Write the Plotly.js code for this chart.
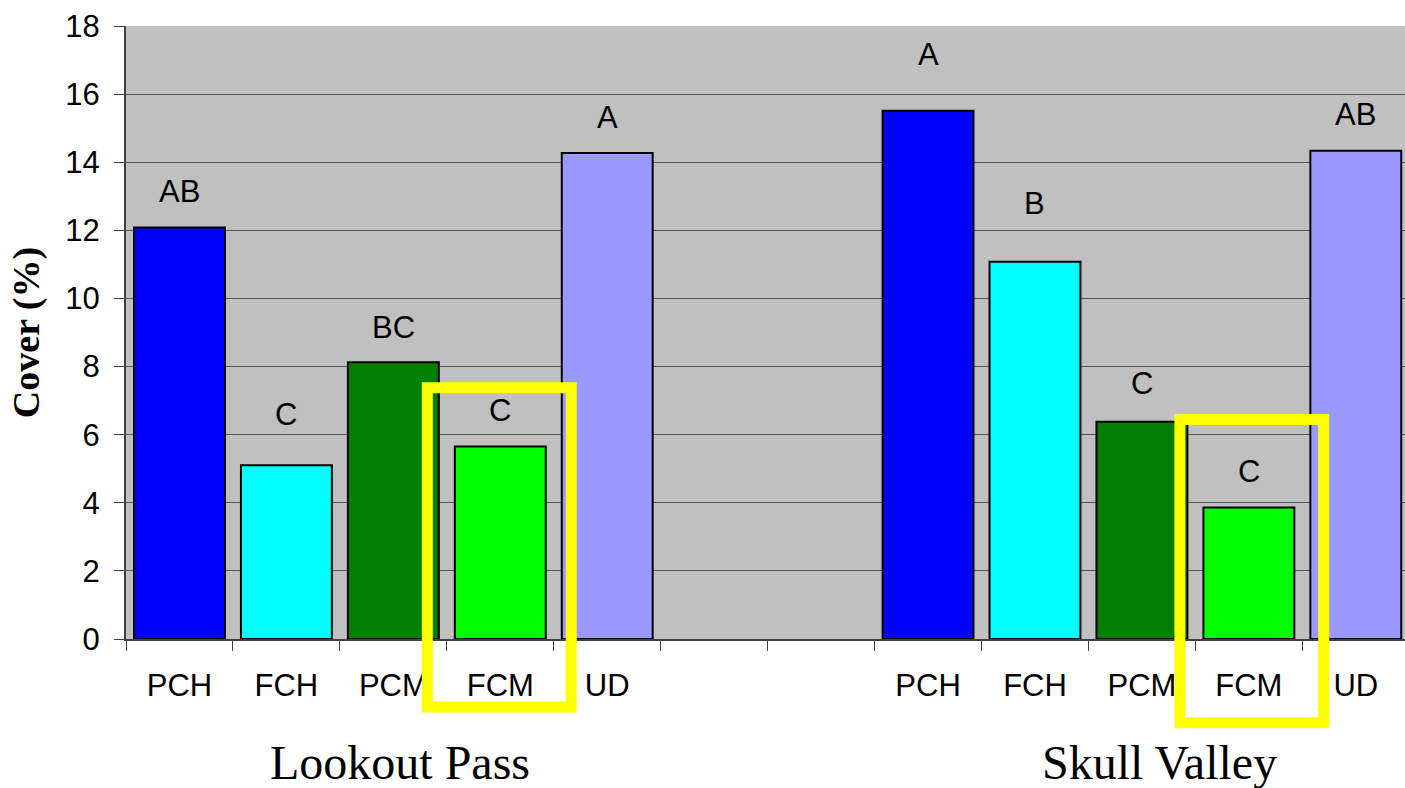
<!DOCTYPE html>
<html>
<head>
<meta charset="utf-8">
<script src="https://cdn.plot.ly/plotly-3.0.1.min.js"></script>
<style>html,body{margin:0;padding:0;background:#fff;}#chart{width:1405px;height:788px;}</style>
</head>
<body>
<div id="chart"></div>
<script>
// Category slots (two empty slots separate the sites)
const slotIds = ["LP-PCH","LP-FCH","LP-PCM","LP-FCM","LP-UD","gap1","gap2","SV-PCH","SV-FCH","SV-PCM","SV-FCM","SV-UD"];
const slotLabels = ["PCH","FCH","PCM","FCM","UD","","","PCH","FCH","PCM","FCM","UD"];
// Bars
const barIds = ["LP-PCH","LP-FCH","LP-PCM","LP-FCM","LP-UD","SV-PCH","SV-FCH","SV-PCM","SV-FCM","SV-UD"];
const coverValues = [12.08, 5.1, 8.13, 5.65, 14.27, 15.51, 11.08, 6.38, 3.86, 14.34];
const barColors = ["#0000FF","#00FFFF","#008000","#00FF00","#9999FF","#0000FF","#00FFFF","#008000","#00FF00","#9999FF"];
// Significance letters and their heights (in % cover units)
const sigLetters = ["AB","C","BC","C","A","A","B","C","C","AB"];
const sigLetterY = [13.15, 6.58, 9.16, 6.72, 15.3, 17.15, 12.8, 7.49, 4.93, 15.41];
const siteNames = ["Lookout Pass","Skull Valley"];
const yTicks = [0,2,4,6,8,10,12,14,16,18];

const W = 1405, H = 788, L = 126, R = 0, T = 26, B = 149;
const pw = W - L - R, ph = H - T - B;
const px = x => (x - L) / pw;
const py = y => (H - B - y) / ph;

const sans = "Liberation Sans, Arial, sans-serif";
const serif = "Liberation Serif, Times New Roman, serif";

const annotations = barIds.map((id, i) => ({
  x: id, y: sigLetterY[i], xref: "x", yref: "y",
  text: sigLetters[i], showarrow: false,
  xanchor: "center", yanchor: "middle",
  font: {family: sans, size: 31, color: "#000"}
}));
const siteX = [400, 1159];
siteNames.forEach((s, i) => annotations.push({
  x: px(siteX[i]), y: py(762), xref: "paper", yref: "paper",
  text: s, showarrow: false, xanchor: "center", yanchor: "middle",
  font: {family: serif, size: 48, color: "#000"}
}));

const boxes = [[427.3, 387.8, 571.2, 707], [1179.9, 419.5, 1323.7, 722.8]];
const shapes = boxes.map(b => ({
  type: "rect", xref: "paper", yref: "paper",
  x0: px(b[0]), x1: px(b[2]), y0: py(b[3]), y1: py(b[1]),
  line: {color: "#FFFF00", width: 11}, fillcolor: "rgba(0,0,0,0)", layer: "above"
}));

const trace = {
  type: "bar", x: barIds, y: coverValues,
  marker: {color: barColors, line: {color: "#000", width: 2}},
  hoverinfo: "x+y"
};

const layout = {
  width: W, height: H,
  margin: {l: L, r: R, t: T, b: B, pad: 0},
  paper_bgcolor: "#FFFFFF", plot_bgcolor: "#C0C0C0",
  showlegend: false, bargap: 0.15,
  font: {family: sans, color: "#000"},
  xaxis: {
    type: "category", categoryorder: "array", categoryarray: slotIds,
    tickmode: "array", tickvals: slotIds, ticktext: slotLabels,
    tickson: "boundaries", ticks: "outside", ticklen: 10, tickcolor: "#404040", tickwidth: 1,
    showgrid: false, showline: true, linecolor: "#404040", linewidth: 2,
    tickfont: {family: sans, size: 31, color: "#000"}, ticklabelstandoff: 18,
    range: [-0.5, 11.46], fixedrange: true, zeroline: false
  },
  yaxis: {
    range: [0, 18], tickvals: yTicks, ticks: "outside", ticklen: 10,
    tickcolor: "#404040", showgrid: true, gridcolor: "#555555", gridwidth: 1,
    showline: true, linecolor: "#404040", linewidth: 2, zeroline: false,
    tickfont: {family: sans, size: 31, color: "#000"}, ticklabelstandoff: 8,
    title: {text: "<b>Cover (%)</b>", font: {family: serif, size: 38, color: "#000"}, standoff: 14}
  },
  annotations: annotations,
  shapes: shapes
};

Plotly.newPlot("chart", [trace], layout, {displayModeBar: false, staticPlot: true});
</script>
</body>
</html>
